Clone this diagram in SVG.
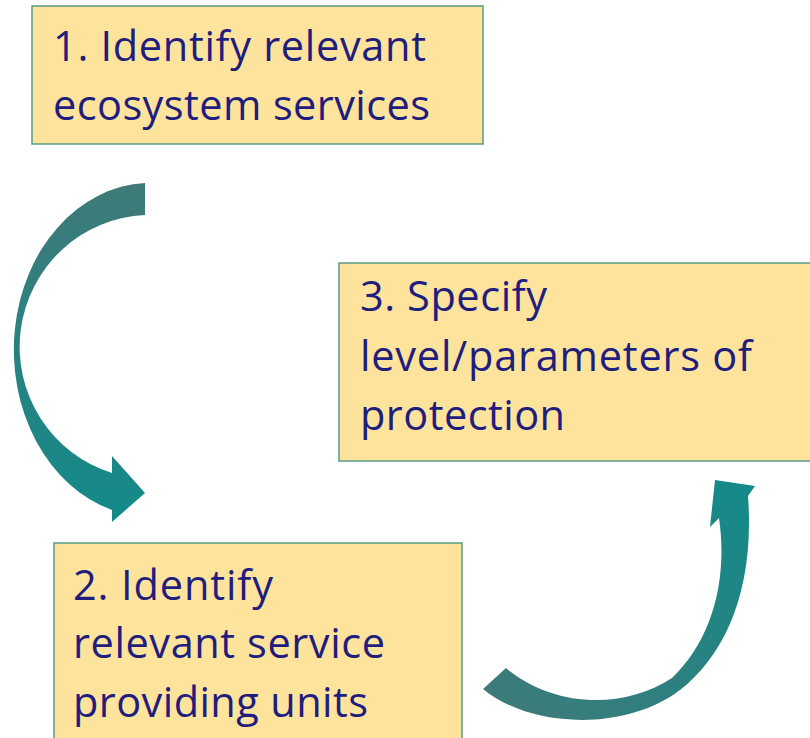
<svg xmlns="http://www.w3.org/2000/svg" width="810" height="738" viewBox="0 0 810 738">
<style>
.box{fill:#fde39c;stroke:#5a9c84;stroke-width:1.5}
.lbl{font-family:"Open Sans","Noto Sans","Liberation Sans",sans-serif;font-size:41.5px;fill:#1f1d7d;font-variant-ligatures:none}
</style>
<defs>
<linearGradient id="g1" x1="0" y1="0" x2="0" y2="1">
<stop offset="0" stop-color="#3f7a78"/>
<stop offset="1" stop-color="#138a8a"/>
</linearGradient>
<linearGradient id="g2" x1="0" y1="1" x2="1" y2="0">
<stop offset="0" stop-color="#3f7a78"/>
<stop offset="1" stop-color="#138a8a"/>
</linearGradient>
</defs>
<rect width="810" height="738" fill="#ffffff"/>
<g id="connectors">
<path id="arrow1" fill="url(#g1)" d="M145,183 A137,167 0 0 0 112,510 L112,522 L145,493 L112,456 L112,473 A131,132 0 0 1 145,215 Z"/>
<path id="arrow2" fill="url(#g2)" d="M483,689 C530,728 625,732 680,690 C725,655 755,590 748,496 L755,486 L715,480 L710,527 L719,518 C728,580 712,640 672,678 C620,712 550,705 506,668 Z"/>
</g>
<g id="node1">
<rect class="box" x="32" y="6" width="451" height="138"/>
<text class="lbl" x="53" y="61" textLength="373">1. Identify relevant</text>
<text class="lbl" x="53" y="120" textLength="377">ecosystem services</text>
</g>
<g id="node3">
<rect class="box" x="339" y="263" width="480" height="198"/>
<text class="lbl" x="360" y="311" textLength="187">3. Specify</text>
<text class="lbl" x="360" y="371" textLength="392">level/parameters of</text>
<text class="lbl" x="360" y="430" textLength="205">protection</text>
</g>
<g id="node2">
<rect class="box" x="54" y="543" width="408" height="210"/>
<text class="lbl" x="73" y="600" textLength="200">2. Identify</text>
<text class="lbl" x="73" y="658" textLength="312">relevant service</text>
<text class="lbl" x="73" y="717" textLength="295">providing units</text>
</g>
</svg>
